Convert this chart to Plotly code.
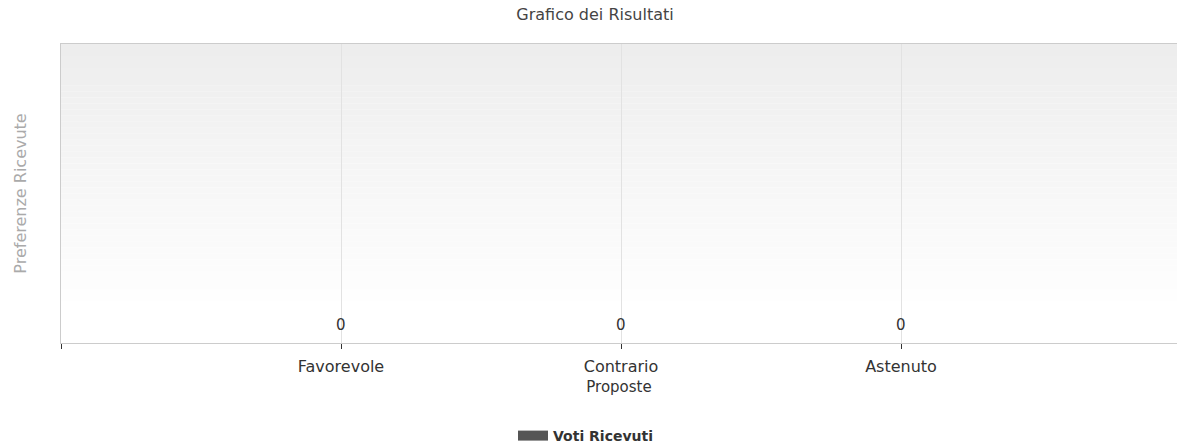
import plotly.graph_objects as go

categories = ["Favorevole", "Contrario", "Astenuto"]
votes = [0, 0, 0]
series_name = "Voti Ricevuti"

title_text = "Grafico dei Risultati"
x_title = "Proposte"
y_title = "Preferenze Ricevute"

FONT = "DejaVu Sans, Verdana, sans-serif"
W, H = 1177, 446
ML, MT, MB = 61, 44, 103
PW = W - ML
PH = H - MT - MB

fig = go.Figure()
fig.add_trace(go.Bar(
    x=list(range(len(categories))),
    y=votes,
    name=series_name,
    marker=dict(color="#555555", line=dict(width=0)),
    width=0.5,
    showlegend=False,
))
# legend entry drawn as a wide block (line legend symbol)
fig.add_trace(go.Scatter(
    x=[None], y=[None], mode="lines", name=series_name,
    line=dict(color="#555555", width=14), showlegend=True,
    hoverinfo="skip",
))

# value labels above each bar
for i, v in enumerate(votes):
    fig.add_annotation(x=i, y=v, text=str(v), showarrow=False,
                       yanchor="bottom", yshift=7,
                       font=dict(family=FONT, size=15, color="#333333"))

# vertical gradient background (light gray top -> white bottom)
n = 50
top = (237, 237, 237)
bot = (255, 255, 255)
for k in range(n):
    t = min(1.0, (k / (n - 1)) / 0.9)
    c = tuple(round(top[j] + (bot[j] - top[j]) * t) for j in range(3))
    fig.add_shape(type="rect", xref="x domain", yref="y domain",
                  x0=0, x1=1, y0=1 - (k + 1) / n, y1=1 - k / n,
                  fillcolor="rgb(%d,%d,%d)" % c, line=dict(width=0),
                  layer="below")

fig.update_layout(
    width=W, height=H,
    margin=dict(l=ML, r=0, t=MT, b=MB, autoexpand=False),
    paper_bgcolor="white",
    plot_bgcolor="rgba(0,0,0,0)",
    title=dict(text=title_text, x=595 / W, xanchor="center",
               y=1 - 14 / H, yanchor="middle",
               font=dict(family=FONT, size=16, color="#444444")),
    font=dict(family=FONT, size=15, color="#333333"),
    showlegend=True,
    legend=dict(orientation="h", xref="container", x=513 / W, xanchor="left",
                yref="container", y=1 - 436 / H, yanchor="middle",
                font=dict(family="DejaVu Sans, sans-serif", size=14,
                          color="#333333", weight="bold"),
                bgcolor="rgba(0,0,0,0)"),
)

fig.update_xaxes(
    range=[-1, -1 + PW / 280],
    tickmode="array",
    tickvals=[-1] + list(range(len(categories))),
    ticktext=[""] + categories,
    ticks="outside", ticklen=5, tickcolor="#333333", tickwidth=1,
    ticklabelstandoff=4,
    showgrid=True, gridcolor="#e2e2e2", gridwidth=1,
    showline=True, linecolor="#cccccc", linewidth=1, mirror=True,
    zeroline=False,
    tickfont=dict(family=FONT, size=16, color="#333333"),
    title=dict(text=x_title, standoff=6,
               font=dict(family=FONT, size=15, color="#333333")),
    fixedrange=True,
)
fig.update_yaxes(
    range=[0, 1],
    showticklabels=False,
    showgrid=False,
    zeroline=False,
    showline=True, linecolor="#cccccc", linewidth=1,
    title=dict(text=y_title, standoff=29,
               font=dict(family=FONT, size=16, color="#aaaaaa")),
    fixedrange=True,
)

fig.write_html(
    "out.html",
    config={"displayModeBar": False},
    post_script="document.body.style.margin='0';document.body.style.overflow='hidden';",
)
